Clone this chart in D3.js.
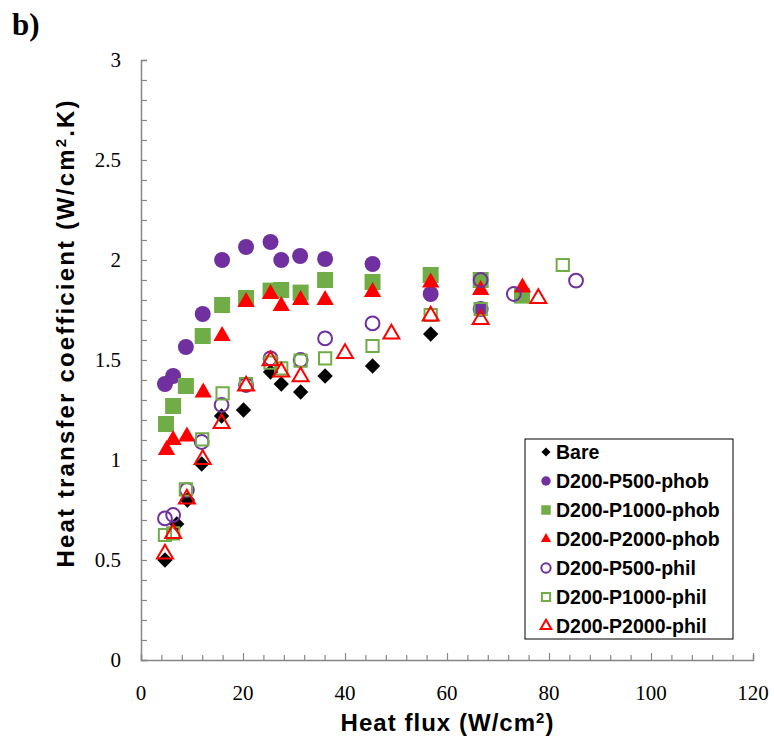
<!DOCTYPE html>
<html>
<head>
<meta charset="utf-8">
<script src="https://cdn.jsdelivr.net/npm/d3@7"></script>
<style>
  body { margin: 0; background: #fff; }
  svg { display: block; }
</style>
</head>
<body>
<svg id="chart" width="774" height="742"></svg>
<script>
// heat flux (W/cm2) and heat transfer coefficient (W/cm2.K)
const bareX = [4.7, 7.0, 9.1, 11.9, 15.8, 20.1, 25.4, 27.5, 31.3, 36.1, 45.4, 56.8];
const bareY = [0.50, 0.68, 0.80, 0.98, 1.22, 1.25, 1.44, 1.38, 1.34, 1.42, 1.47, 1.63];

const p500phobX = [4.7, 6.3, 8.8, 12.1, 15.9, 20.6, 25.4, 27.5, 31.2, 36.1, 45.4, 56.8, 66.6];
const p500phobY = [1.38, 1.42, 1.565, 1.73, 2.0, 2.065, 2.09, 2.0, 2.02, 2.005, 1.98, 1.83, 1.755];

const p1000phobX = [4.9, 6.3, 8.8, 12.1, 15.9, 20.6, 25.4, 27.5, 31.3, 36.1, 45.4, 56.8, 66.6, 74.7];
const p1000phobY = [1.18, 1.27, 1.37, 1.62, 1.775, 1.81, 1.847, 1.85, 1.837, 1.90, 1.89, 1.925, 1.90, 1.822];

const p2000phobX = [5.0, 6.3, 9.0, 12.2, 15.9, 20.6, 25.4, 27.5, 31.3, 36.1, 45.4, 56.8, 66.6, 74.8];
const p2000phobY = [1.05, 1.10, 1.117, 1.338, 1.62, 1.79, 1.83, 1.77, 1.80, 1.80, 1.84, 1.887, 1.85, 1.863];

const p500philX = [4.7, 6.3, 9.0, 11.9, 15.8, 20.6, 25.4, 31.3, 36.1, 45.4, 66.6, 73.1, 85.3];
const p500philY = [0.708, 0.725, 0.85, 1.09, 1.275, 1.375, 1.508, 1.50, 1.608, 1.683, 1.90, 1.83, 1.897];

const p1000philX = [4.7, 6.3, 8.8, 12.0, 16.0, 20.6, 25.4, 27.5, 31.3, 36.1, 45.4, 56.8, 66.6, 82.7];
const p1000philY = [0.625, 0.633, 0.853, 1.103, 1.333, 1.38, 1.487, 1.458, 1.497, 1.508, 1.57, 1.725, 1.755, 1.975];

const p2000philX = [4.7, 6.3, 9.0, 12.1, 15.8, 20.6, 25.4, 27.5, 31.3, 40.0, 49.1, 56.8, 66.6, 77.9];
const p2000philY = [0.53, 0.633, 0.805, 1.003, 1.183, 1.37, 1.497, 1.44, 1.417, 1.533, 1.63, 1.72, 1.703, 1.808];

const seriesNames = ['Bare', 'D200-P500-phob', 'D200-P1000-phob', 'D200-P2000-phob',
                     'D200-P500-phil', 'D200-P1000-phil', 'D200-P2000-phil'];
const xTicks = [0, 20, 40, 60, 80, 100, 120];
const yTicks = [0, 0.5, 1, 1.5, 2, 2.5, 3];

const purple = '#7030a0', green = '#70ad47', red = '#ff0000';

// marker style per series
const styles = [
  {shape: d3.symbolDiamond2, size: 150, fill: '#000', stroke: 'none'},
  {shape: d3.symbolCircle, size: 200, fill: purple, stroke: 'none'},
  {shape: d3.symbolSquare, size: 256, fill: green, stroke: 'none'},
  {shape: d3.symbolTriangle, size: 130, fill: red, stroke: 'none'},
  {shape: d3.symbolCircle, size: 150, fill: 'none', stroke: purple},
  {shape: d3.symbolSquare, size: 150, fill: 'none', stroke: green},
  {shape: d3.symbolTriangle, size: 110, fill: 'none', stroke: red}
];

const xs = [bareX, p500phobX, p1000phobX, p2000phobX, p500philX, p1000philX, p2000philX];
const ys = [bareY, p500phobY, p1000phobY, p2000phobY, p500philY, p1000philY, p2000philY];
const series = seriesNames.map((name, i) => ({
  name: name, style: styles[i],
  points: xs[i].map((x, j) => ({x: x, y: ys[i][j]}))
}));

const svg = d3.select('#chart');
const plotLeft = 141, plotRight = 753, plotTop = 60, plotBottom = 660;

const x = d3.scaleLinear().domain([0, 120]).range([plotLeft, plotRight]);
const y = d3.scaleLinear().domain([0, 3]).range([plotBottom, plotTop]);

const axisColor = '#868686';

// axes (ticks inside)
const xAxis = svg.append('g').attr('transform', 'translate(0,' + plotBottom + ')')
  .call(d3.axisBottom(x).tickValues(d3.range(0, 121, 4)).tickSize(-5).tickFormat(''));
const yAxis = svg.append('g').attr('transform', 'translate(' + plotLeft + ',0)')
  .call(d3.axisLeft(y).tickValues(d3.range(0, 3.001, 0.1)).tickSize(-6).tickFormat(''));
[xAxis, yAxis].forEach(a => {
  a.select('.domain').attr('stroke', axisColor).attr('stroke-width', 1.5);
  a.selectAll('.tick line').attr('stroke', axisColor).attr('stroke-width', 1.2);
});
xAxis.selectAll('.tick').filter(d => d % 20 === 0).select('line').attr('y2', -7);

svg.append('g').selectAll('text').data(xTicks).join('text')
  .attr('x', d => x(d)).attr('y', 700)
  .attr('text-anchor', 'middle')
  .style('font', '21px "Liberation Serif", "Times New Roman", serif')
  .text(d => d);

svg.append('g').selectAll('text').data(yTicks).join('text')
  .attr('x', 121).attr('y', d => y(d) + 7)
  .attr('text-anchor', 'end')
  .style('font', '21px "Liberation Serif", "Times New Roman", serif')
  .text(d => d);

// titles
const titleFont = 'bold 24px "Liberation Sans", Arial, sans-serif';
svg.append('text').attr('x', 447).attr('y', 731).attr('text-anchor', 'middle')
  .attr('textLength', 213).attr('lengthAdjust', 'spacing')
  .style('font', titleFont)
  .html('Heat flux (W/cm<tspan baseline-shift="super" font-size="15px">2</tspan>)');
svg.append('text').attr('transform', 'translate(74,334) rotate(-90)').attr('text-anchor', 'middle')
  .attr('textLength', 467).attr('lengthAdjust', 'spacing')
  .style('font', titleFont)
  .html('Heat transfer coefficient (W/cm<tspan baseline-shift="super" font-size="15px">2</tspan>.K)');
svg.append('text').attr('x', 12).attr('y', 35)
  .style('font', 'bold 31px "Liberation Serif", "Times New Roman", serif')
  .text('b)');

// points
series.forEach(s => {
  svg.append('g').selectAll('path').data(s.points).join('path')
    .attr('transform', d => 'translate(' + x(d.x) + ',' + y(d.y) + ')')
    .attr('d', d3.symbol().type(s.style.shape).size(s.style.size))
    .attr('fill', s.style.fill)
    .attr('stroke', s.style.stroke)
    .attr('stroke-width', 2);
});

// legend
const lg = svg.append('g');
lg.append('rect').attr('x', 525).attr('y', 439).attr('width', 208).attr('height', 200)
  .attr('fill', '#fff').attr('stroke', '#000').attr('stroke-width', 1);
series.forEach((s, i) => {
  const ly = 452 + i * 29;
  const sc = s.style.fill === 'none' ? 0.45 : 0.35;
  lg.append('path')
    .attr('transform', 'translate(546,' + ly + ')')
    .attr('d', d3.symbol().type(s.style.shape).size(s.style.size * sc))
    .attr('fill', s.style.fill).attr('stroke', s.style.stroke).attr('stroke-width', 2);
  lg.append('text').attr('x', 556).attr('y', ly + 7)
    .style('font', 'bold 19.5px "Liberation Sans", Arial, sans-serif')
    .text(s.name);
});
</script>
</body>
</html>
